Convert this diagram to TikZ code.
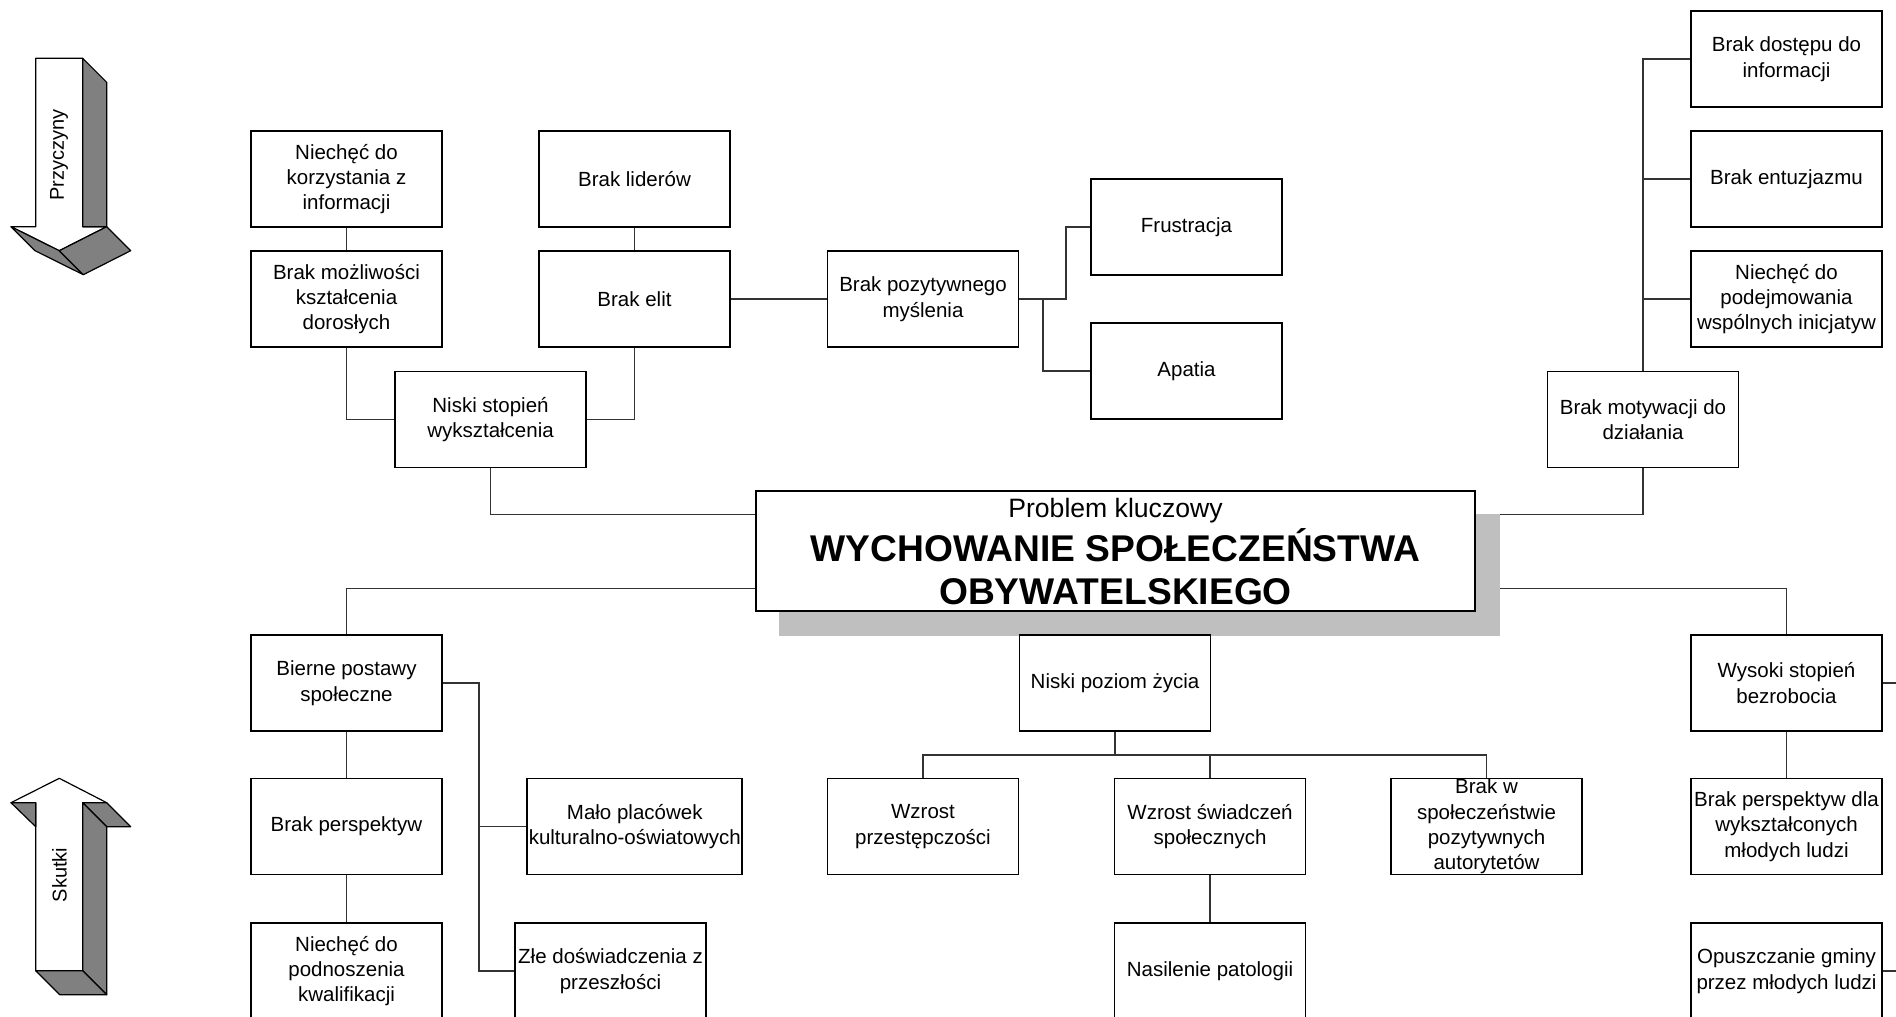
\documentclass[tikz,border=0pt]{standalone}
\usepackage{fontspec}
\setmainfont{Liberation Sans}
\usetikzlibrary{calc}
\pgfdeclarelayer{bg}
\pgfsetlayers{bg,main}
\begin{document}
\begin{tikzpicture}[x=0.5pt,y=-0.5pt,
  box/.style={draw=black, line width=0.8pt, fill=white, minimum width=95.5pt, minimum height=48pt, inner sep=0pt, align=center, font=\fontsize{10.25}{12.7}\selectfont},
  corebox/.style={draw=black, line width=0.8pt, fill=white, minimum width=359.5pt, minimum height=60pt, inner sep=0pt},
  link/.style={draw=black!80, line width=0.65pt},
  face/.style={fill=white, draw=black, line width=0.6pt, line join=round},
  side/.style={fill=black!50, draw=black, line width=0.6pt, line join=round},
  arrowtext/.style={rotate=90, font=\fontsize{10}{12}\selectfont},
  boldtitle/.style={anchor=base, font=\fontsize{18.6}{22}\selectfont\bfseries}]
\useasboundingbox (0,0) rectangle (1896,1017);

% ---- side arrows
\draw[face] (35.7,58.3) -- (82.7,58.3) -- (82.7,226.7) -- (106.7,226.7) -- (59.3,250.7) -- (11,226.7) -- (35.7,226.7) -- cycle;
\draw[side] (82.7,58.3) -- (106.7,82.3) -- (106.7,226.7) -- (82.7,226.7) -- cycle;
\draw[side] (11,226.7) -- (59.3,250.7) -- (83.3,274.7) -- (35,250.7) -- cycle;
\draw[side] (59.3,250.7) -- (106.7,226.7) -- (130.7,250.7) -- (83.3,274.7) -- cycle;
\node[arrowtext] (przy) at (59,155) {Przyczyny};

\draw[face] (59.3,778.3) -- (106.7,802.7) -- (82.7,802.7) -- (82.7,970.7) -- (35.7,970.7) -- (35.7,802.7) -- (11,802.7) -- cycle;
\draw[side] (11,802.7) -- (35.7,802.7) -- (35.7,826.7) -- cycle;
\draw[side] (82.7,802.7) -- (106.7,802.7) -- (130.7,826.7) -- (106.7,826.7) -- cycle;
\draw[side] (82.7,802.7) -- (106.7,826.7) -- (106.7,994.7) -- (82.7,970.7) -- cycle;
\draw[side] (35.7,970.7) -- (82.7,970.7) -- (106.7,994.7) -- (59.7,994.7) -- cycle;
\node[arrowtext] (skut) at (59.5,875) {Skutki};

% ---- causes, left
\node[box] (n1) at (346.5,179) {Niechęć do\\korzystania z\\informacji};
\node[box] (n2) at (346.5,299) {Brak możliwości\\kształcenia\\dorosłych};
\node[box] (n3) at (634.5,179) {Brak liderów};
\node[box] (n4) at (634.5,299) {Brak elit};
\node[box] (n5) at (490.5,419.5) {Niski stopień\\wykształcenia};
\node[box] (n6) at (923,299) {Brak pozytywnego\\myślenia};
\node[box] (n7) at (1186.5,227) {Frustracja};
\node[box] (n8) at (1186.5,371) {Apatia};

% ---- causes, right
\node[box] (r1) at (1786.5,59) {Brak dostępu do\\informacji};
\node[box] (r2) at (1786.5,179) {Brak entuzjazmu};
\node[box] (r3) at (1786.5,299) {Niechęć do\\podejmowania\\wspólnych inicjatyw};
\node[box] (r4) at (1643,419.5) {Brak motywacji do\\działania};

% ---- core problem
\node[corebox] (core) at (1115.5,551) {};
\node[anchor=base, font=\fontsize{13.3}{16}\selectfont] (coret) at (1115.5,517) {Problem kluczowy};
\node[boldtitle] (corea) at (1115.5,561) {WYCHOWANIE SPOŁECZEŃSTWA};
\node[boldtitle] (coreb) at (1115.5,604) {OBYWATELSKIEGO};

% ---- effects, left
\node[box] (b1) at (346.5,683) {Bierne postawy\\społeczne};
\node[box] (b2) at (346.5,826.5) {Brak perspektyw};
\node[box] (b3) at (346.5,971) {Niechęć do\\podnoszenia\\kwalifikacji};
\node[box, minimum width=107.5pt] (b4) at (634.75,826.5) {Mało placówek\\kulturalno-oświatowych};
\node[box] (b5) at (610.5,971) {Złe doświadczenia z\\przeszłości};

% ---- effects, middle
\node[box] (m1) at (1115,683) {Niski poziom życia};
\node[box] (m2) at (923,826.5) {Wzrost\\przestępczości};
\node[box] (m3) at (1210,826.5) {Wzrost świadczeń\\społecznych};
\node[box] (m4) at (1486.5,826.5) {Brak w\\społeczeństwie\\pozytywnych\\autorytetów};
\node[box] (m5) at (1210,971) {Nasilenie patologii};

% ---- effects, right
\node[box] (w1) at (1786.5,683) {Wysoki stopień\\bezrobocia};
\node[box] (w2) at (1786.5,826.5) {Brak perspektyw dla\\wykształconych\\młodych ludzi};
\node[box] (w3) at (1786.5,971) {Opuszczanie gminy\\przez młodych ludzi};

\coordinate (j1) at (1043,299);
\coordinate (j2) at (1066,299);
\coordinate (j3) at (1115,755);
\coordinate (e1) at (1896,683);
\coordinate (e2) at (1896,971);
\coordinate (b1j) at (479,683);

\begin{pgfonlayer}{bg}
\draw[link] (n1) -- (n2);
\draw[link] (n3) -- (n4);
\draw[link] (n2.south) |- (n5.west);
\draw[link] (n4.south) |- (n5.east);
\draw[link] (n4.east) -- (n6.west);
\draw[link] (n6.east) -- (j2) |- (n7.west);
\draw[link] (j1) |- (n8.west);
\draw[link] (r4.north) |- (r1.west);
\draw[link] (r4.north |- r2.west) -- (r2.west);
\draw[link] (r4.north |- r3.west) -- (r3.west);
\draw[link] (n5.south) |- ($(core.north west)!0.2!(core.south west)$);
\draw[link] (r4.south) |- ($(core.north east)!0.2!(core.south east)$);
\draw[link] ($(core.north west)!0.808!(core.south west)$) -| (b1.north);
\draw[link] ($(core.north east)!0.808!(core.south east)$) -| (w1.north);
\draw[link] (b1) -- (b2);
\draw[link] (b2) -- (b3);
\draw[link] (b1.east) -- (b1j) |- (b5.west);
\draw[link] (b1j |- b4.west) -- (b4.west);
\draw[link] (m1.south) -- (j3);
\draw[link] (m2.north) |- (j3) -| (m4.north);
\draw[link] (j3 -| m3.north) -- (m3.north);
\draw[link] (m3) -- (m5);
\draw[link] (w1) -- (w2);
\draw[link] (w1.east) -- (e1);
\draw[link] (w3.east) -- (e2);
\fill[black!25] ($(core.north west)+(24,24)$) rectangle ($(core.south east)+(24,24)$);
\end{pgfonlayer}
\end{tikzpicture}
\end{document}
